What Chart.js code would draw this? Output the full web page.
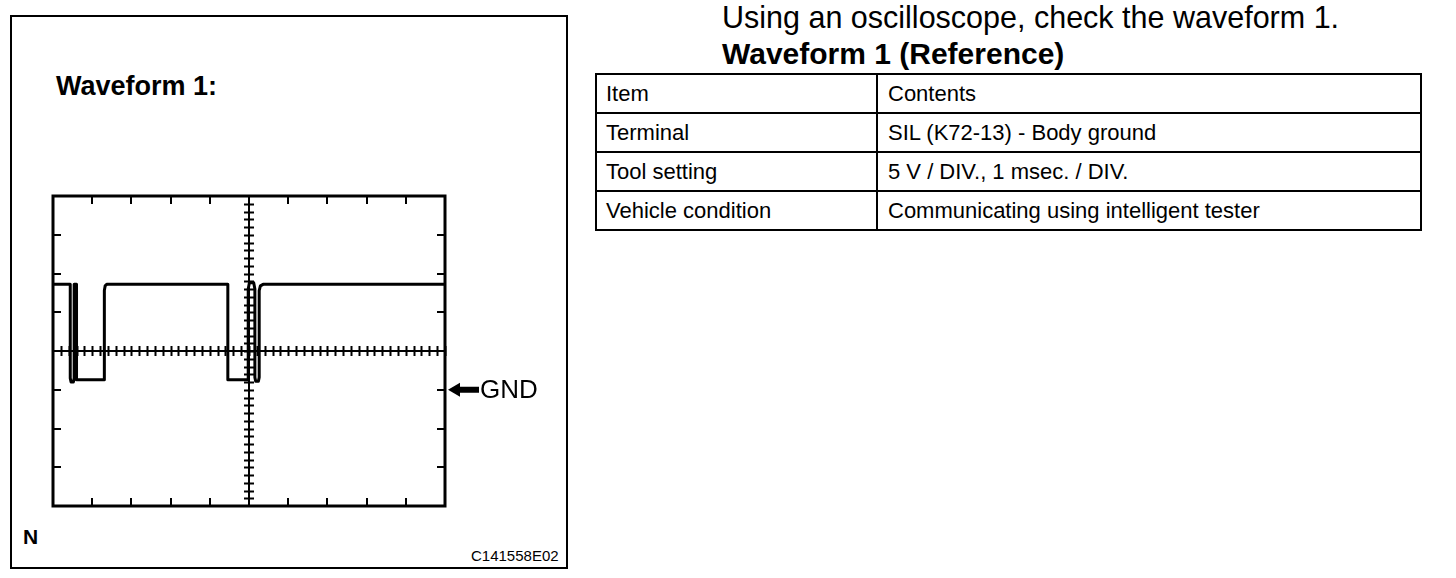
<!DOCTYPE html>
<html>
<head>
<meta charset="utf-8">
<title>Waveform 1</title>
<script src="https://cdn.jsdelivr.net/npm/chart.js@4.4.0/dist/chart.umd.min.js"></script>
<style>
    body { margin: 0; background: #fff; color: #000; font-family: "Liberation Sans", Arial, sans-serif; }
    #page { position: relative; width: 1456px; height: 578px; overflow: hidden; }
    #marco { position: absolute; left: 10px; top: 15px; width: 554px; height: 550px; border: 2px solid #000; }
    .txt { position: absolute; white-space: nowrap; line-height: 1; }
    #wfLabel { left: 56px; top: 73px; font-size: 27px; font-weight: bold; }
    #letraN { left: 23px; top: 526px; font-size: 21px; font-weight: bold; }
    #codigo { left: 471px; top: 548px; font-size: 15px; }
    #titulo1 { left: 722px; top: 2px; font-size: 30.5px; }
    #titulo2 { left: 722px; top: 39px; font-size: 30px; font-weight: bold; }
    #tabla { position: absolute; left: 595px; top: 73px; width: 823px; border: 2px solid #000; font-size: 22px; }
    .fila { display: flex; height: 37px; line-height: 37px; }
    .fila + .fila { border-top: 2px solid #000; }
    .c1 { width: 270px; border-right: 2px solid #000; padding-left: 9px; }
    .c2 { padding-left: 10px; }
    #scope { position: absolute; left: 40px; top: 185px; }
</style>
</head>
<body>
<div id="page">
    <div id="marco"></div>
    <div class="txt" id="wfLabel">Waveform 1:</div>
    <div class="txt" id="letraN">N</div>
    <div class="txt" id="codigo">C141558E02</div>
    <canvas id="scope" width="510" height="335"></canvas>

    <div class="txt" id="titulo1">Using an oscilloscope, check the waveform 1.</div>
    <div class="txt" id="titulo2">Waveform 1 (Reference)</div>
    <div id="tabla"></div>
</div>

<script>
// Datos de la forma de onda (tiempo en ms, tensión en V respecto a GND)
const timeMs = [0, 0.44, 0.44, 0.46, 0.52, 0.54, 0.54, 0.60, 0.60, 1.31, 1.31, 1.33, 1.37,
    4.46, 4.46, 4.98, 4.98, 5.01, 5.12, 5.15, 5.15, 5.17, 5.24, 5.26, 5.26, 5.29, 5.36, 10];
const volts = [13.6, 13.6, 1.5, 1.0, 1.0, 1.5, 13.6, 13.6, 1.3, 1.3, 12.8, 13.4, 13.6,
    13.6, 1.3, 1.3, 13.0, 13.8, 13.8, 13.0, 1.6, 1.1, 1.1, 1.6, 12.8, 13.4, 13.6, 13.6];

// Retícula del osciloscopio: 1 ms / DIV, 5 V / DIV
const xDivTicks = [1, 2, 3, 4, 5, 6, 7, 8, 9];
const yDivTicks = [-10, -5, 0, 5, 10, 15, 20];
const xCenter = 5;
const yCenter = 5;
const gndLevel = 0;

// Tabla de referencia
const tableRows = [
    ['Item', 'Contents'],
    ['Terminal', 'SIL (K72-13) - Body ground'],
    ['Tool setting', '5 V / DIV., 1 msec. / DIV.'],
    ['Vehicle condition', 'Communicating using intelligent tester']
];

function buildTable() {
    const tabla = document.getElementById('tabla');
    tableRows.forEach(row => {
        const fila = document.createElement('div');
        fila.className = 'fila';
        fila.innerHTML = `<div class="c1">${row[0]}</div><div class="c2">${row[1]}</div>`;
        tabla.appendChild(fila);
    });
}

// Plugin para dibujar la retícula, el marco y la marca GND
const scopeGrid = {
    id: 'scopeGrid',
    beforeDatasetsDraw(chart) {
        const { ctx, chartArea: a, scales: { x, y } } = chart;
        const cx = x.getPixelForValue(xCenter);
        const cy = y.getPixelForValue(yCenter);
        ctx.save();
        ctx.strokeStyle = '#000';

        // ejes centrales
        ctx.lineWidth = 2;
        ctx.beginPath();
        ctx.moveTo(a.left, cy); ctx.lineTo(a.right, cy);
        ctx.moveTo(cx, a.top); ctx.lineTo(cx, a.bottom);
        ctx.stroke();

        // subdivisiones sobre los ejes centrales (5 por división)
        ctx.lineWidth = 2;
        ctx.beginPath();
        for (let t = 0.2; t < 10; t += 0.2) {
            const px = Math.round(x.getPixelForValue(t)) + 0.5;
            ctx.moveTo(px, cy - 5); ctx.lineTo(px, cy + 5);
        }
        for (let v = -14; v < 25; v += 1) {
            const py = Math.round(y.getPixelForValue(v)) + 0.5;
            ctx.moveTo(cx - 5, py); ctx.lineTo(cx + 5, py);
        }
        ctx.stroke();

        // marcas de división en los bordes
        ctx.lineWidth = 2;
        ctx.beginPath();
        xDivTicks.forEach(t => {
            const px = Math.round(x.getPixelForValue(t));
            ctx.moveTo(px, a.top); ctx.lineTo(px, a.top + 8);
            ctx.moveTo(px, a.bottom); ctx.lineTo(px, a.bottom - 8);
        });
        yDivTicks.forEach(v => {
            const py = Math.round(y.getPixelForValue(v));
            ctx.moveTo(a.left, py); ctx.lineTo(a.left + 8, py);
            ctx.moveTo(a.right, py); ctx.lineTo(a.right - 8, py);
        });
        ctx.stroke();
        ctx.restore();
    },
    afterDraw(chart) {
        const { ctx, chartArea: a, scales: { y } } = chart;
        ctx.save();
        ctx.strokeStyle = '#000';
        ctx.lineWidth = 3;
        ctx.strokeRect(a.left, a.top, a.right - a.left, a.bottom - a.top);

        // flecha GND
        const gy = y.getPixelForValue(gndLevel);
        const tip = a.right + 3;
        ctx.fillStyle = '#000';
        ctx.beginPath();
        ctx.moveTo(tip, gy);
        ctx.lineTo(tip + 12, gy - 7);
        ctx.lineTo(tip + 12, gy + 7);
        ctx.closePath();
        ctx.fill();
        ctx.fillRect(tip + 11, gy - 3, 20, 6);
        ctx.font = '26px "Liberation Sans", Arial, sans-serif';
        ctx.textBaseline = 'middle';
        ctx.fillText('GND', tip + 32, gy + 1);
        ctx.restore();
    }
};

function initScope() {
    const ctx = document.getElementById('scope').getContext('2d');
    new Chart(ctx, {
        type: 'line',
        data: {
            datasets: [{
                data: timeMs.map((t, i) => ({ x: t, y: volts[i] })),
                borderColor: '#000',
                borderWidth: 3,
                borderJoinStyle: 'round',
                borderCapStyle: 'round',
                pointRadius: 0,
                tension: 0,
                fill: false
            }]
        },
        options: {
            responsive: false,
            animation: false,
            devicePixelRatio: 1,
            layout: { padding: { left: 13, top: 11, right: 105, bottom: 14 } },
            scales: {
                x: { type: 'linear', min: 0, max: 10, display: false },
                y: { type: 'linear', min: -15, max: 25, display: false }
            },
            plugins: {
                legend: { display: false },
                tooltip: { enabled: false }
            }
        },
        plugins: [scopeGrid]
    });
}

function init() {
    buildTable();
    initScope();
}

document.addEventListener('DOMContentLoaded', init);
</script>
</body>
</html>
